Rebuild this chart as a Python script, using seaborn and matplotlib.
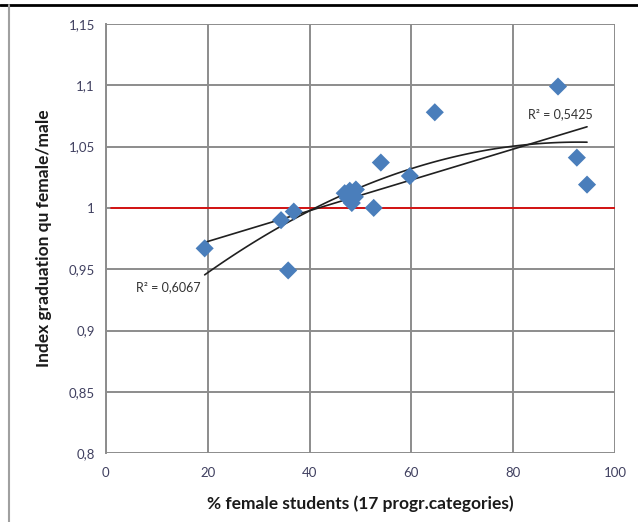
import matplotlib
matplotlib.use("Agg")
import matplotlib.pyplot as plt
from matplotlib.lines import Line2D
import seaborn as sns
import pandas as pd
import numpy as np

# data
pct_female = [19.4, 34.4, 35.8, 36.9, 46.9, 47.9, 49.1, 47.5, 48.3, 48.9,
              52.6, 54.0, 59.7, 64.6, 88.8, 92.5, 94.5]
index_fm = [0.967, 0.990, 0.949, 0.997, 1.012, 1.014, 1.015, 1.008, 1.004, 1.009,
            1.000, 1.037, 1.026, 1.078, 1.099, 1.041, 1.019]
x_ticks = [0, 20, 40, 60, 80, 100]
y_ticks = [0.8, 0.85, 0.9, 0.95, 1.0, 1.05, 1.1, 1.15]
y_tick_labels = ["0,8", "0,85", "0,9", "0,95", "1", "1,05", "1,1", "1,15"]
r2_labels = ["R\u00b2 = 0,6067", "R\u00b2 = 0,5425"]
ref_level = 1.0

df = pd.DataFrame({"x": pct_female, "y": index_fm})

sns.set_style("white")
plt.rcParams["font.family"] = ["Lato", "DejaVu Sans"]

fig = plt.figure(figsize=(6.38, 5.22), dpi=100)
ax = fig.add_axes([0.166, 0.132, 0.798, 0.822])

ax.set_xlim(0, 100)
ax.set_ylim(0.8, 1.15)
ax.set_xticks(x_ticks)
ax.set_yticks(y_ticks)
ax.set_yticklabels(y_tick_labels)
ax.grid(True, color="#8c8c8c", linewidth=1.4)
ax.set_axisbelow(True)
for s in ["top", "right", "bottom"]:
    ax.spines[s].set_visible(False)
ax.spines["left"].set_color("#8c8c8c")
ax.spines["left"].set_linewidth(1.4)
ax.tick_params(axis="both", length=4, color="#8c8c8c", width=1.4,
               labelsize=9.5, labelcolor="#404060", pad=4)
ax.tick_params(axis="x", length=0, pad=10)

ax.axhline(ref_level, xmin=0.01, xmax=1, color="#e00000", linewidth=1.2, zorder=2)

sns.regplot(data=df, x="x", y="y", order=2, ci=None, scatter=False, ax=ax,
            line_kws=dict(color="#202020", linewidth=1.2, zorder=3))
sns.regplot(data=df, x="x", y="y", order=1, ci=None, scatter=False, ax=ax,
            line_kws=dict(color="#202020", linewidth=1.2, zorder=3))
sns.scatterplot(data=df, x="x", y="y", marker="D", s=85, color="#4a7ebb",
                edgecolor="none", ax=ax, zorder=4)

ax.text(6, 0.9325, r2_labels[0], fontsize=9, color="#333333")
ax.text(83, 1.0735, r2_labels[1], fontsize=9, color="#333333")

ax.set_xlabel("% female students (17 progr.categories)", fontsize=12.5,
              fontweight="bold", color="#1a1a1a", labelpad=12)
ax.set_ylabel("Index graduation qu female/male", fontsize=12.5,
              fontweight="bold", color="#1a1a1a", labelpad=12)

fig.add_artist(Line2D([0, 1], [1 - 5 / 522, 1 - 5 / 522], color="black", linewidth=2))
fig.add_artist(Line2D([9 / 638, 9 / 638], [0, 1 - 5 / 522], color="#a0a0a0", linewidth=1.5))

fig.savefig("out.png", dpi=100)
